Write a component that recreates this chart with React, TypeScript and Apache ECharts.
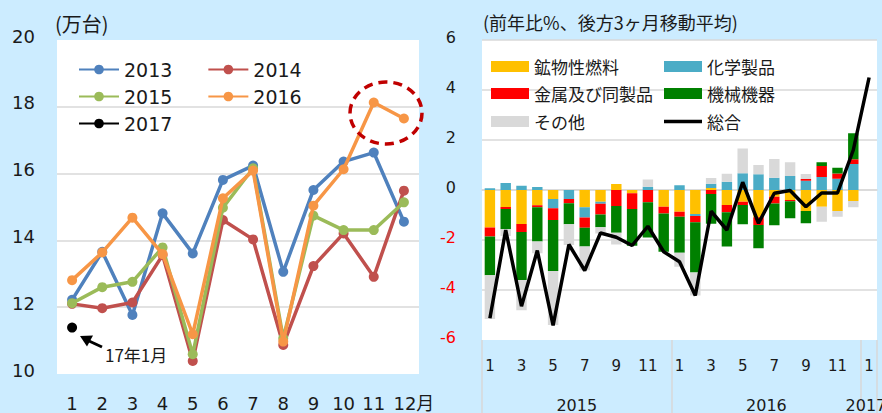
import React, { useEffect, useRef } from "react";
import * as echarts from "echarts";

// ---------- Left chart data (万台) ----------
const leftMonths = ["1", "2", "3", "4", "5", "6", "7", "8", "9", "10", "11", "12月"];
const yearNames = ["2013", "2014", "2015", "2016", "2017"];
const s2013 = [12.22, 13.66, 11.77, 14.81, 13.61, 15.81, 16.24, 13.06, 15.51, 16.36, 16.63, 14.56];
const s2014 = [12.1, 11.97, 12.14, 13.56, 10.39, 14.61, 14.03, 10.87, 13.23, 14.21, 12.91, 15.49];
const s2015 = [12.12, 12.6, 12.76, 13.79, 10.59, 14.98, 16.16, 11.07, 14.74, 14.31, 14.31, 15.14];
const s2016 = [12.81, 13.64, 14.68, 13.59, 11.19, 15.26, 16.09, 10.97, 15.04, 16.13, 18.13, 17.65];
const s2017 = [11.39, null, null, null, null, null, null, null, null, null, null, null];
const leftYTicks = { min: 10, max: 20, interval: 2 };

// ---------- Right chart data (前年比%) ----------
const rightMonths = [
  "1", "2", "3", "4", "5", "6", "7", "8", "9", "10", "11", "12",
  "1", "2", "3", "4", "5", "6", "7", "8", "9", "10", "11", "12",
  "1",
];
const rightYears = ["2015", "2016", "2017"];
const yearLabelPos = [6, 18, 24.3];
const yearBoundaries = [0, 12, 24, 25];
const catNames = ["鉱物性燃料", "化学製品", "金属及び同製品", "機械機器", "その他", "総合"];
const fuel = [-1.5, -0.68, -1.36, -0.61, -0.36, 0, -0.69, -0.47, 0.24, -0.13, 0, -0.67,
  -0.87, -0.96, 0.08, -0.6, -0.47, -1.09, -0.27, -0.4, -0.84, -0.67, -0.84, -0.44];
const chem = [0.07, 0.28, 0.17, 0.12, -0.37, -0.36, -0.41, -0.08, 0, 0, 0.13, 0,
  0.19, -0.08, 0.17, 0.33, 0.67, 0.63, 0.49, 0.56, 0.37, 0.52, 0.45, 1.04];
const metal = [-0.36, -0.08, -0.32, -0.08, -0.47, -0.17, -0.41, -0.43, -0.64, -0.63, -0.49, -0.27,
  -0.2, -0.25, -0.16, -0.29, -0.13, -0.31, -0.27, -0.05, 0.07, 0.44, 0.21, 0.19];
const machine = [-1.55, -0.81, -1.92, -1.37, -2.04, -0.84, -0.75, -0.51, -1.07, -1.47, -1.41, -1.53,
  -1.44, -2.01, -1.19, -1.37, -0.77, -0.93, -0.87, -0.68, -0.49, 0.15, 0.23, 1.04];
const other = [-1.75, -0.27, -1.21, -0.47, -2.16, -0.83, -0.95, -0.25, -0.47, 0, 0.29, 0,
  -0.56, -0.92, 0.23, 0.32, 0.99, 0.37, 0.75, 0.55, 0.2, -0.6, -0.23, -0.25];
const total = [-5.13, -1.6, -4.65, -2.42, -5.42, -2.18, -3.22, -1.72, -1.89, -2.22, -1.45, -2.47,
  -2.87, -4.22, -0.85, -1.6, 0.31, -1.33, -0.13, -0.02, -0.67, -0.12, -0.12, 1.6, 4.5];
const rightYTicks = { min: -6, max: 6, interval: 2 };

const BG = "#CCECFF";
const GRID = "#D9D9D9";
const TXT = "#1a1a1a";
const NUMFONT = "DejaVu Sans";
const JPFONT = "'Noto Sans CJK JP', 'DejaVu Sans'";

const lineColors = ["#4F81BD", "#C0504D", "#9BBB59", "#F79646", "#000000"];
const barColors = ["#FFC000", "#4BACC6", "#FF0000", "#008000", "#D9D9D9"];

export default function App() {
  const ref = useRef<HTMLDivElement>(null);
  useEffect(() => {
    if (!ref.current) return;
    const chart = echarts.init(ref.current, undefined, { renderer: "svg" });
    const yearData = [s2013, s2014, s2015, s2016, s2017];

    const leftSeries = yearNames.map((n, i) => ({
      name: n,
      type: "line",
      xAxisIndex: 0,
      yAxisIndex: 0,
      data: yearData[i],
      symbol: "circle",
      symbolSize: 10,
      lineStyle: { width: 3.5, color: lineColors[i] },
      itemStyle: { color: lineColors[i] },
      z: 3 + i,
    }));

    const barData = [fuel, chem, metal, machine, other];
    const rightBars = barData.map((d, i) => ({
      name: catNames[i],
      type: "bar",
      xAxisIndex: 1,
      yAxisIndex: 1,
      stack: "s",
      data: d,
      barCategoryGap: "34%",
      itemStyle: { color: barColors[i] },
    }));
    const rightLine = {
      name: catNames[5],
      type: "line",
      xAxisIndex: 1,
      yAxisIndex: 1,
      data: total,
      symbol: "none",
      lineStyle: { width: 3.5, color: "#000" },
      itemStyle: { color: "#000" },
      z: 10,
    };

    const leftLegendRows = [[0, 1], [2, 3], [4]];
    const leftLegendTops = [60, 87, 114];
    const leftLegends = leftLegendRows.map((row, r) => ({
      data: row.map((i) => yearNames[i]),
      left: 78,
      top: leftLegendTops[r],
      padding: 0,
      itemWidth: 40,
      itemHeight: 12,
      itemGap: 35,
      selectedMode: false,
      textStyle: { fontSize: 19, fontFamily: NUMFONT, color: TXT },
    }));

    const rightLegendLayout = [
      { left: 491, top: 58 }, { left: 664, top: 58 },
      { left: 491, top: 85 }, { left: 664, top: 85 },
      { left: 491, top: 113 }, { left: 664, top: 113 },
    ];
    const rightLegends = catNames.map((n, i) => ({
      data: [n],
      left: rightLegendLayout[i].left,
      top: rightLegendLayout[i].top,
      padding: 0,
      itemWidth: 38,
      itemHeight: i === 5 ? 3.5 : 11,
      icon: "rect",
      selectedMode: false,
      textStyle: { fontSize: 17, fontFamily: JPFONT, color: TXT },
    }));

    const option: any = {
      animation: false,
      backgroundColor: BG,
      textStyle: { fontFamily: NUMFONT },
      grid: [
        { left: 57, top: 40, width: 362, height: 334, show: true, backgroundColor: "#fff", borderWidth: 0, outerBoundsMode: "none", containLabel: false },
        { left: 482, top: 40, width: 395, height: 300, show: true, backgroundColor: "#fff", borderWidth: 0, outerBoundsMode: "none", containLabel: false },
      ],
      legend: [...leftLegends, ...rightLegends],
      xAxis: [
        {
          gridIndex: 0,
          type: "category",
          data: leftMonths,
          boundaryGap: true,
          axisLine: { show: false },
          axisTick: { show: false },
          axisLabel: {
            margin: 20,
            fontSize: 18,
            fontFamily: NUMFONT,
            color: TXT,
            interval: 0,
            formatter: (v: string) => (v.endsWith("月") ? `{p|${v}}` : v),
            rich: { p: { padding: [0, 0, 0, 20], fontSize: 18, fontFamily: "'DejaVu Sans', 'Noto Sans CJK JP'", color: TXT } },
          },
        },
        {
          gridIndex: 1,
          type: "category",
          data: rightMonths,
          boundaryGap: true,
          axisLine: { show: true, lineStyle: { color: GRID, width: 1.5 } },
          axisTick: { show: false },
          axisLabel: { interval: 1, margin: 18, fontSize: 15, fontFamily: NUMFONT, color: TXT },
        },
        {
          gridIndex: 1,
          type: "value",
          position: "bottom",
          min: 0,
          max: 25,
          axisLine: { show: false },
          splitLine: { show: false },
          axisTick: {
            show: true,
            customValues: yearBoundaries,
            length: 75,
            lineStyle: { color: GRID, width: 1.5 },
          },
          axisLabel: {
            customValues: yearLabelPos,
            margin: 57,
            fontSize: 16,
            fontFamily: NUMFONT,
            color: TXT,
            hideOverlap: false,
            formatter: (v: number) => rightYears[yearLabelPos.indexOf(Number(v))] ?? "",
          },
        },
      ],
      yAxis: [
        {
          gridIndex: 0,
          type: "value",
          ...leftYTicks,
          axisLine: { show: false },
          axisTick: { show: false },
          splitLine: { show: true, showMinLine: false, showMaxLine: false, lineStyle: { color: GRID, width: 1.5 } },
          axisLabel: { margin: 22, fontSize: 18, fontFamily: NUMFONT, color: TXT, verticalAlign: "bottom", lineHeight: 8 },
        },
        {
          gridIndex: 1,
          type: "value",
          ...rightYTicks,
          axisLine: { show: false },
          axisTick: { show: false },
          splitLine: { show: true, showMinLine: false, lineStyle: { color: GRID, width: 1.5 } },
          axisLabel: {
            margin: 26,
            fontSize: 16,
            fontFamily: NUMFONT,
            verticalAlign: "bottom",
            lineHeight: 6,
            color: (v: any) => (Number(v) < 0 ? "#FF0000" : TXT),
          },
        },
      ],
      series: [...leftSeries, ...rightBars, rightLine],
      graphic: [
        {
          type: "text",
          left: 55,
          top: 13,
          style: { text: "(万台)", fontSize: 20, fontFamily: JPFONT, fill: TXT },
        },
        {
          type: "text",
          left: 483,
          top: 13,
          style: { text: "(前年比%、後方3ヶ月移動平均)", fontSize: 18, fontFamily: JPFONT, fill: TXT },
        },
        {
          type: "ellipse",
          shape: { cx: 386, cy: 113, rx: 36, ry: 31 },
          style: { fill: "none", stroke: "#C00000", lineWidth: 3.5, lineDash: [9, 6] },
          z: 20,
        },
        {
          type: "line",
          shape: { x1: 102, y1: 347, x2: 89, y2: 341 },
          style: { stroke: "#000", lineWidth: 3 },
          z: 20,
        },
        {
          type: "polygon",
          shape: { points: [[80, 336], [93, 335.5], [87, 346.5]] },
          style: { fill: "#000" },
          z: 20,
        },
        {
          type: "text",
          left: 105,
          top: 346,
          style: { text: "17年1月", fontSize: 17, fontFamily: JPFONT, fill: TXT },
          z: 20,
        },
      ],
    };
    chart.setOption(option);
    return () => chart.dispose();
  }, []);
  return (
    <div
      ref={ref}
      style={{ position: "absolute", left: 0, top: 0, width: 882, height: 413, background: BG }}
    />
  );
}
